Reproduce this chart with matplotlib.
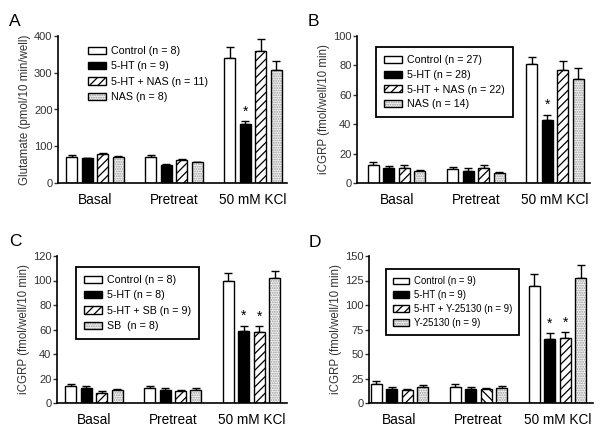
import matplotlib
matplotlib.use("Agg")
import matplotlib.pyplot as plt
from matplotlib.patches import Patch
import numpy as np

plt.rcParams['font.family'] = ['Liberation Sans', 'DejaVu Sans']
plt.rcParams['hatch.linewidth'] = 0.9

groups = ["Basal", "Pretreat", "50 mM KCl"]

# Panel A
a_labels = ["Control (n = 8)", "5-HT (n = 9)", "5-HT + NAS (n = 11)", "NAS (n = 8)"]
a_means = [[72, 70, 340], [67, 50, 160], [78, 62, 360], [70, 56, 308]]
a_errs = [[3, 7, 30], [2, 2, 8], [3, 3, 32], [3, 2, 24]]
a_star = [[False, False, False], [False, False, True], [False, False, False], [False, False, False]]

# Panel B
b_labels = ["Control (n = 27)", "5-HT (n = 28)", "5-HT + NAS (n = 22)", "NAS (n = 14)"]
b_means = [[12, 9.5, 81], [10.5, 8.5, 43], [10.5, 10, 77], [8, 7, 71]]
b_errs = [[2, 1.2, 5], [1, 1.5, 3.5], [1.5, 2, 6], [1, 0.8, 7]]
b_star = [[False, False, False], [False, False, True], [False, False, False], [False, False, False]]

# Panel C
c_labels = ["Control (n = 8)", "5-HT (n = 8)", "5-HT + SB (n = 9)", "SB  (n = 8)"]
c_means = [[13.5, 12, 100], [12, 10.5, 59], [8.5, 10, 58], [10.5, 10.5, 102]]
c_errs = [[2, 1.5, 6], [1.5, 1.8, 4], [1, 1, 4.5], [1.2, 1.5, 6]]
c_star = [[False, False, False], [False, False, True], [False, False, True], [False, False, False]]

# Panel D
d_labels = ["Control (n = 9)", "5-HT (n = 9)", "5-HT + Y-25130 (n = 9)", "Y-25130 (n = 9)"]
d_means = [[19, 16, 119], [14, 14, 65], [13, 14.5, 66], [16, 15, 128]]
d_errs = [[3, 3, 13], [2, 2, 6], [1, 1, 6], [2.5, 2.5, 13]]
d_star = [[False, False, False], [False, False, True], [False, False, True], [False, False, False]]

STIPPLE_FACE = '#f3f3f3'
STIPPLE_DOTS = '#9a9a9a'

fig = plt.figure(figsize=(6, 4.4), dpi=100)

def fx(px):
    return px / 600.0

def fy(py):
    return 1 - py / 440.0

def panel(px_left, px_right, py_top, py_bottom, xlim, letter, letter_xy,
          means, errs, stars, labels, ymax, ystep, ylabel,
          leg_xy, frame, leg_fs, leg_ls, hatch_override=None):
    ax = fig.add_axes([fx(px_left), fy(py_bottom), fx(px_right - px_left),
                       (py_bottom - py_top) / 440.0])
    x = np.arange(len(groups))
    w = 0.14
    step = 0.196
    for i in range(4):
        pos = x + (i - 1.5) * step
        if i == 0:
            ax.bar(pos, means[i], width=w, color='white', edgecolor='black', linewidth=1.0, zorder=2)
        elif i == 1:
            ax.bar(pos, means[i], width=w, color='black', edgecolor='black', linewidth=1.0, zorder=2)
        elif i == 2:
            hatches = ['////'] * 3
            if hatch_override:
                for j, h in hatch_override.items():
                    hatches[j] = h
            for j in range(3):
                ax.bar(pos[j], means[i][j], width=w, color='white', edgecolor='black',
                       linewidth=1.0, hatch=hatches[j], zorder=2)
        else:
            ax.bar(pos, means[i], width=w, color=STIPPLE_FACE, edgecolor=STIPPLE_DOTS,
                   linewidth=0, hatch='.......', zorder=2)
            ax.bar(pos, means[i], width=w, fill=False, edgecolor='black', linewidth=1.0, zorder=3)
        ax.errorbar(pos, means[i], yerr=[np.zeros(3), errs[i]], fmt='none',
                    ecolor='black', elinewidth=1.0, capsize=3, capthick=1.0, zorder=1)
        for j in range(3):
            if stars[i][j]:
                ax.text(pos[j], means[i][j] + errs[i][j] + ymax * 0.02, '*',
                        ha='center', va='bottom', fontsize=10)
    ax.set_xlim(*xlim)
    ax.set_ylim(0, ymax)
    ax.set_yticks(np.arange(0, ymax + 0.1, ystep))
    ax.set_xticks(x)
    ax.set_xticklabels(groups, fontsize=9.8)
    ax.tick_params(axis='x', length=0, pad=7)
    ax.tick_params(axis='y', direction='out', length=3, width=1, labelsize=8, pad=1,
                   colors='#333333', labelcolor='#333333')
    for s in ['top', 'right']:
        ax.spines[s].set_visible(False)
    for s in ['left', 'bottom']:
        ax.spines[s].set_linewidth(1.2)
    ax.set_ylabel(ylabel, fontsize=8.3, labelpad=2, color='#333333')

    handles = [
        Patch(facecolor='white', edgecolor='black', linewidth=1.0),
        Patch(facecolor='black', edgecolor='black', linewidth=1.0),
        Patch(facecolor='white', edgecolor='black', linewidth=1.0, hatch='////'),
        (Patch(facecolor=STIPPLE_FACE, edgecolor=STIPPLE_DOTS, linewidth=0, hatch='.......'),
         Patch(fill=False, edgecolor='black', linewidth=1.0)),
    ]
    leg = ax.legend(handles, labels, loc='upper left',
                    bbox_to_anchor=(fx(leg_xy[0]), fy(leg_xy[1])),
                    bbox_transform=fig.transFigure, borderaxespad=0,
                    fontsize=leg_fs, frameon=frame, fancybox=False, edgecolor='black',
                    framealpha=1, handlelength=1.7, handleheight=0.65, handletextpad=0.45,
                    labelspacing=leg_ls, borderpad=0.75)
    if frame:
        leg.get_frame().set_linewidth(1.3)
    fig.text(fx(letter_xy[0]), fy(letter_xy[1]), letter, fontsize=12.5)
    return ax

panel(58, 287, 36, 183, (-0.47, 2.43), 'A', (9, 26), a_means, a_errs, a_star, a_labels,
      400, 100, 'Glutamate (pmol/10 min/well)', (80, 38), False, 7.7, 0.5)
panel(357, 590, 36, 183, (-0.50, 2.44), 'B', (308, 26), b_means, b_errs, b_star, b_labels,
      100, 20, 'iCGRP (fmol/well/10 min)', (376, 47), True, 7.7, 0.45)
panel(57, 287, 256, 403, (-0.47, 2.45), 'C', (9, 246), c_means, c_errs, c_star, c_labels,
      120, 20, 'iCGRP (fmol/well/10 min)', (76, 267), True, 7.7, 0.5)
panel(369, 593, 256, 403, (-0.386, 2.45), 'D', (309, 247), d_means, d_errs, d_star, d_labels,
      150, 25, 'iCGRP (fmol/well/10 min)', (386, 269), True, 6.9, 0.4,
      hatch_override={1: '\\\\\\\\'})

fig.savefig('out.png', dpi=100)
